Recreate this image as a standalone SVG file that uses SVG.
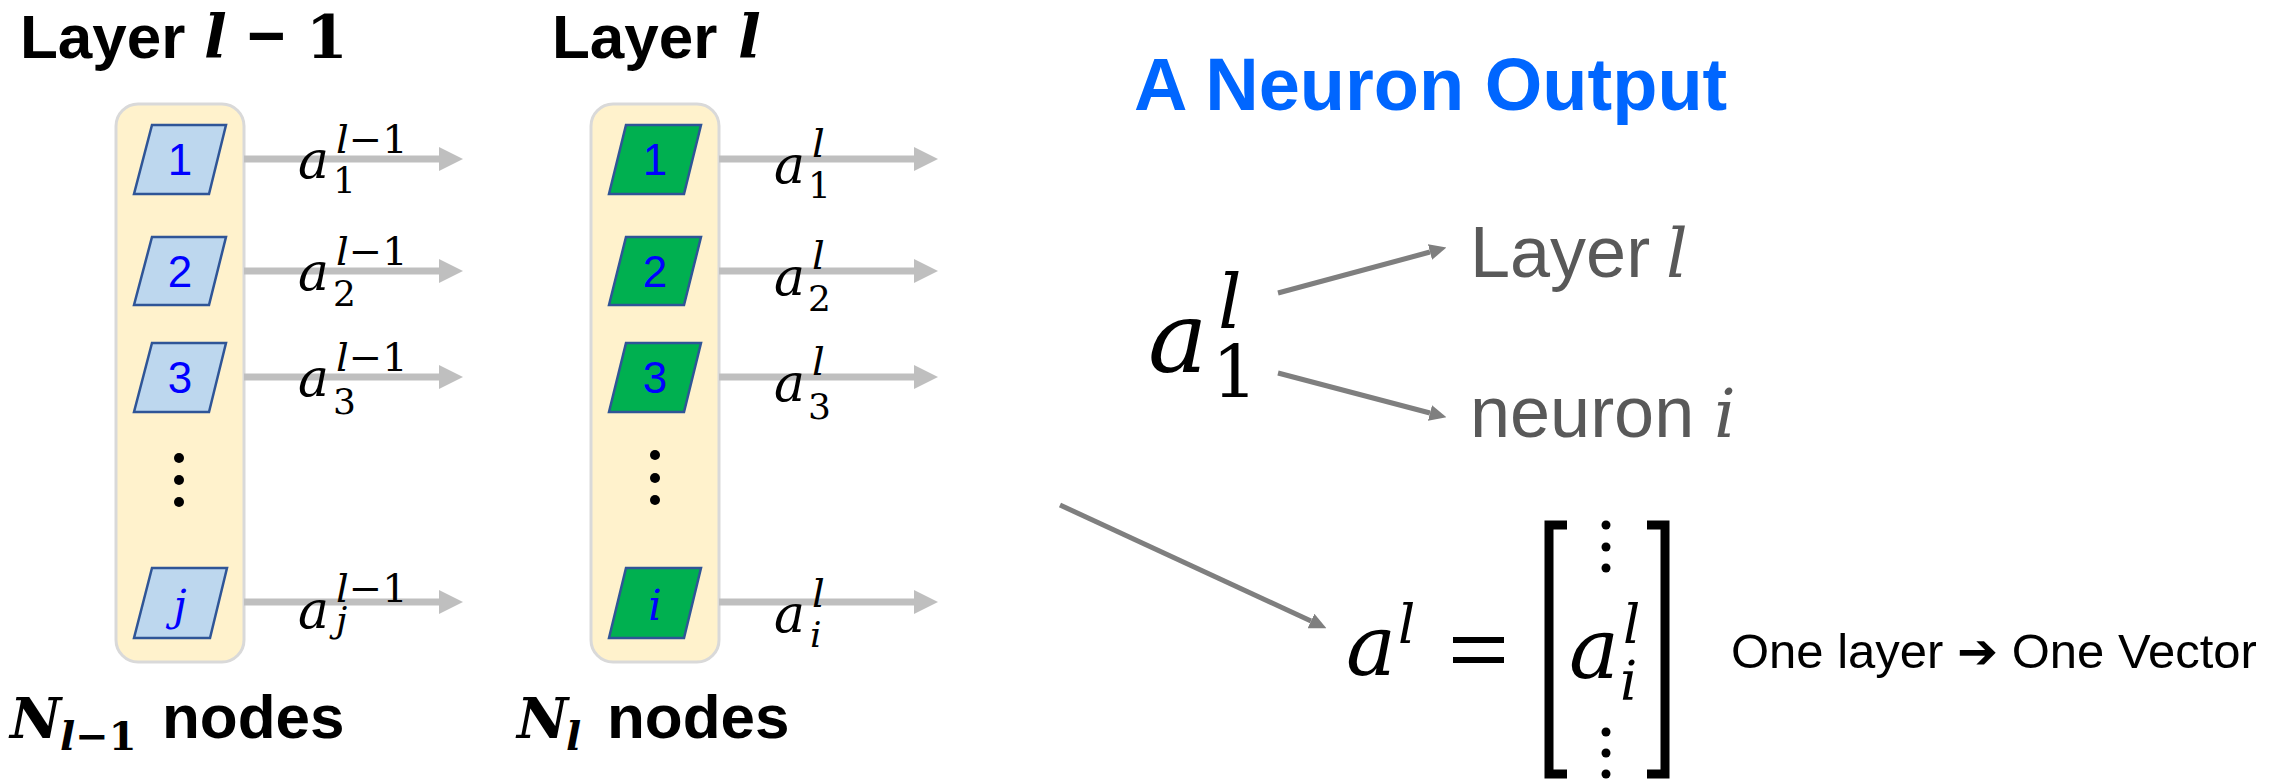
<svg xmlns="http://www.w3.org/2000/svg" width="2285" height="780" viewBox="0 0 2285 780">
<style>
.sans{font-family:"Liberation Sans",Arial,sans-serif}
.bold{font-weight:bold}
.math{font-family:"DejaVu Serif","Liberation Serif",serif}
.it{font-style:italic}
.box{fill:#FFF2CC;stroke:#D9D9D9;stroke-width:3}
.pb{fill:#BDD7EE;stroke:#2F5597;stroke-width:2.5}
.pg{fill:#00B050;stroke:#2F5597;stroke-width:2.5}
.num{font-family:"Liberation Sans",Arial,sans-serif;font-size:44px;fill:#0000FF;text-anchor:middle}
.numi{font-family:"DejaVu Serif",serif;font-style:italic;font-size:42px;fill:#0000FF;text-anchor:middle}
.la{font-size:52px}
.ls{font-size:40px}
.lb{font-size:36px}
.conn{stroke:#BFBFBF;stroke-width:7;fill:none}
.darr{stroke:#7F7F7F;stroke-width:5;fill:none}
</style>
<defs>
<marker id="gh" viewBox="0 0 24 24" refX="0" refY="12" markerWidth="24" markerHeight="24" markerUnits="userSpaceOnUse" orient="auto">
<path d="M0,0 L24,12 L0,24 z" fill="#BFBFBF"/>
</marker>
<marker id="dh" viewBox="0 0 17 16" refX="0" refY="8" markerWidth="17" markerHeight="16" markerUnits="userSpaceOnUse" orient="auto">
<path d="M0,0 L17,8 L0,16 z" fill="#7F7F7F"/>
</marker>
</defs>
<rect width="2285" height="780" fill="#FFFFFF"/>

<!-- Titles -->
<g id="title-prev">
<text x="20" y="58" class="sans bold" font-size="62">Layer</text>
<text x="204" y="58" class="math it bold" font-size="60">l</text>
<text x="247" y="58" class="sans bold" font-size="66">−</text>
<text x="306" y="58" class="math bold" font-size="60">1</text>
</g>
<g id="title-cur">
<text x="552" y="58" class="sans bold" font-size="62">Layer</text>
<text x="738" y="58" class="math it bold" font-size="60">l</text>
</g>

<!-- Layer l-1 -->
<g id="layer-prev">
<rect class="box" x="116" y="104" width="128" height="558" rx="22"/>
<g id="prev-n1"><polygon class="pb" points="152,125 226,125 209,194 134,194"/><text class="num" x="180" y="175">1</text></g>
<g id="prev-n2"><polygon class="pb" points="152,237 226,237 209,305 134,305"/><text class="num" x="180" y="287">2</text></g>
<g id="prev-n3"><polygon class="pb" points="152,343 226,343 209,412 134,412"/><text class="num" x="180" y="393">3</text></g>
<g id="prev-dots" fill="#000"><circle cx="179" cy="458" r="5"/><circle cx="179" cy="480" r="5"/><circle cx="179" cy="502" r="5"/></g>
<g id="prev-nj"><polygon class="pb" points="152,568 227,568 210,638 134,638"/><text class="numi" x="180" y="620">j</text></g>
</g>

<!-- Layer l -->
<g id="layer-cur">
<rect class="box" x="591" y="104" width="128" height="558" rx="22"/>
<g id="cur-n1"><polygon class="pg" points="626,125 701,125 684,194 609,194"/><text class="num" x="655" y="175">1</text></g>
<g id="cur-n2"><polygon class="pg" points="626,237 701,237 684,305 609,305"/><text class="num" x="655" y="287">2</text></g>
<g id="cur-n3"><polygon class="pg" points="626,343 701,343 684,412 609,412"/><text class="num" x="655" y="393">3</text></g>
<g id="cur-dots" fill="#000"><circle cx="655" cy="455" r="5"/><circle cx="655" cy="478" r="5"/><circle cx="655" cy="500" r="5"/></g>
<g id="cur-ni"><polygon class="pg" points="626,568 701,568 684,638 609,638"/><text class="numi" x="655" y="620">i</text></g>
</g>

<!-- Connectors -->
<g id="connectors">
<line class="conn" x1="244" y1="159" x2="439" y2="159" marker-end="url(#gh)"/>
<line class="conn" x1="244" y1="271" x2="439" y2="271" marker-end="url(#gh)"/>
<line class="conn" x1="244" y1="377" x2="439" y2="377" marker-end="url(#gh)"/>
<line class="conn" x1="244" y1="602" x2="439" y2="602" marker-end="url(#gh)"/>
<line class="conn" x1="719" y1="159" x2="914" y2="159" marker-end="url(#gh)"/>
<line class="conn" x1="719" y1="271" x2="914" y2="271" marker-end="url(#gh)"/>
<line class="conn" x1="719" y1="377" x2="914" y2="377" marker-end="url(#gh)"/>
<line class="conn" x1="719" y1="602" x2="914" y2="602" marker-end="url(#gh)"/>
<line class="darr" x1="1278" y1="293" x2="1430" y2="252" marker-end="url(#dh)"/>
<line class="darr" x1="1278" y1="373" x2="1430" y2="413" marker-end="url(#dh)"/>
<line class="darr" x1="1060" y1="505" x2="1311" y2="621" marker-end="url(#dh)"/>
</g>

<!-- Labels for layer l-1 outputs -->
<g id="labels-prev" class="math">
<g><text class="it la" x="298" y="178">a</text><text class="ls" x="336" y="153"><tspan class="it">l</tspan>−1</text><text class="lb" x="333" y="193">1</text></g>
<g><text class="it la" x="298" y="290">a</text><text class="ls" x="336" y="265"><tspan class="it">l</tspan>−1</text><text class="lb" x="333" y="306">2</text></g>
<g><text class="it la" x="298" y="396">a</text><text class="ls" x="336" y="371"><tspan class="it">l</tspan>−1</text><text class="lb" x="333" y="414">3</text></g>
<g><text class="it la" x="298" y="628">a</text><text class="ls" x="336" y="602"><tspan class="it">l</tspan>−1</text><text class="lb it" x="336" y="632">j</text></g>
</g>

<!-- Labels for layer l outputs -->
<g id="labels-cur" class="math">
<g><text class="it la" x="774" y="183">a</text><text class="ls it" x="812" y="157">l</text><text class="lb" x="808" y="198">1</text></g>
<g><text class="it la" x="774" y="295">a</text><text class="ls it" x="812" y="269">l</text><text class="lb" x="808" y="311">2</text></g>
<g><text class="it la" x="774" y="401">a</text><text class="ls it" x="812" y="375">l</text><text class="lb" x="808" y="419">3</text></g>
<g><text class="it la" x="774" y="632">a</text><text class="ls it" x="812" y="607">l</text><text class="lb it" x="810" y="647">i</text></g>
</g>

<!-- Bottom labels -->
<g id="count-prev">
<text x="10" y="738" class="math it bold" font-size="56">N</text>
<text x="60" y="750" class="math bold" font-size="40"><tspan class="it">l</tspan>−1</text>
<text x="162" y="738" class="sans bold" font-size="62">nodes</text>
</g>
<g id="count-cur">
<text x="517" y="738" class="math it bold" font-size="56">N</text>
<text x="566" y="750" class="math it bold" font-size="40">l</text>
<text x="607" y="738" class="sans bold" font-size="62">nodes</text>
</g>

<!-- Right side -->
<g id="neuron-title">
<text x="1134" y="110" class="sans bold" font-size="74" fill="#0066FF">A Neuron Output</text>
</g>
<g id="neuron-symbol" class="math">
<text class="it" x="1148" y="372" font-size="100">a</text>
<text class="it" x="1218" y="328" font-size="74">l</text>
<text x="1212" y="398" font-size="72">1</text>
</g>
<g id="layer-label">
<text x="1470" y="277" class="sans" font-size="72" fill="#595959">Layer</text>
<text x="1666" y="277" class="math it" font-size="68" fill="#595959">l</text>
</g>
<g id="neuron-label">
<text x="1470" y="437" class="sans" font-size="72" fill="#595959">neuron</text>
<text x="1714" y="437" class="math it" font-size="68" fill="#595959">i</text>
</g>

<g id="vector" class="math">
<text class="it" x="1346" y="675" font-size="84">a</text>
<text class="it" x="1398" y="643" font-size="54">l</text>
<rect x="1453" y="637" width="51" height="6" fill="#000"/>
<rect x="1453" y="657" width="51" height="6" fill="#000"/>
<path d="M1567,525 H1549 V774 H1567" fill="none" stroke="#000" stroke-width="9"/>
<path d="M1647,525 H1665 V774 H1647" fill="none" stroke="#000" stroke-width="9"/>
<g fill="#000"><circle cx="1606" cy="525" r="4.5"/><circle cx="1606" cy="547" r="4.5"/><circle cx="1606" cy="568" r="4.5"/>
<circle cx="1606" cy="732" r="4.5"/><circle cx="1606" cy="753" r="4.5"/><circle cx="1606" cy="774" r="4.5"/></g>
<text class="it" x="1569" y="678" font-size="84">a</text>
<text class="it" x="1623" y="643" font-size="54">l</text>
<text class="it" x="1620" y="700" font-size="54">i</text>
</g>
<g id="caption">
<text x="1731" y="668" font-size="49" class="sans">One layer <tspan font-family="'DejaVu Sans',sans-serif" font-weight="bold">➔</tspan> One Vector</text>
</g>
</svg>
